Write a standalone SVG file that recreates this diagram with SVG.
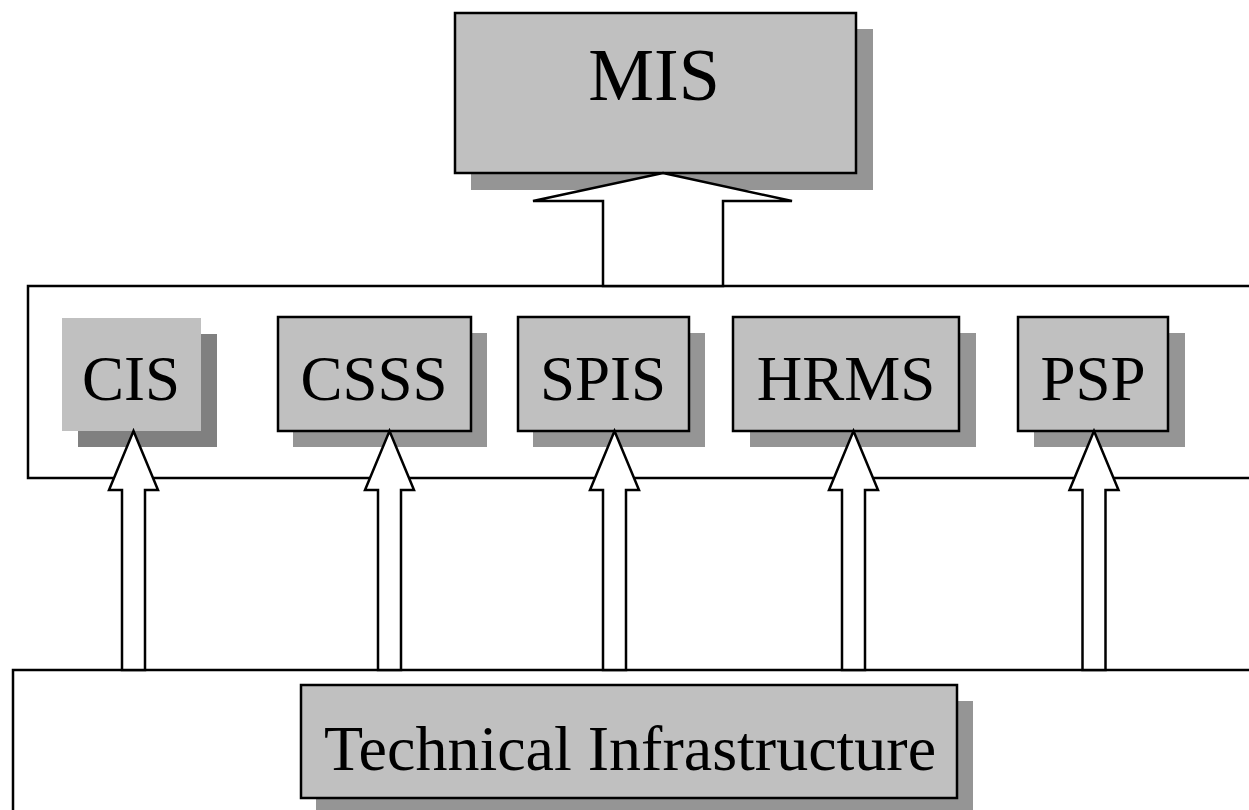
<svg xmlns="http://www.w3.org/2000/svg" width="1249" height="810" viewBox="0 0 1249 810">
  <style>
    .frame { fill: #ffffff; stroke: #000000; stroke-width: 2.5; }
    .box { fill: #c0c0c0; stroke: #000000; stroke-width: 2.5; }
    .shadow { fill: #959595; }
    .label { font-family: "Liberation Serif", "Times New Roman", serif; font-size: 63px; fill: #000000; text-anchor: middle; }
    .arrow { fill: #ffffff; stroke: #000000; stroke-width: 2.5; stroke-linejoin: miter; }
  </style>
  <rect width="1249" height="810" fill="#ffffff"/>

  <!-- layer frames -->
  <g id="applications-layer">
    <rect class="frame" x="28" y="286" width="1240" height="192"/>
  </g>
  <g id="infrastructure-layer">
    <rect class="frame" x="13" y="670" width="1260" height="160"/>
  </g>

  <!-- MIS -->
  <g id="mis">
    <rect class="shadow" x="471" y="29" width="402" height="161"/>
    <rect class="box" x="455" y="13" width="401" height="160"/>
    <text class="label" x="654" y="100" style="font-size:74px">MIS</text>
  </g>

  <!-- application systems -->
  <g id="cis">
    <rect x="78" y="334" width="139" height="113" fill="#808080"/>
    <rect x="62" y="318" width="139" height="113" fill="#c0c0c0"/>
    <text class="label" x="131" y="400">CIS</text>
  </g>
  <g id="csss">
    <rect class="shadow" x="293" y="333" width="194" height="114"/>
    <rect class="box" x="278" y="317" width="193" height="114"/>
    <text class="label" x="374" y="400">CSSS</text>
  </g>
  <g id="spis">
    <rect class="shadow" x="533" y="333" width="172" height="114"/>
    <rect class="box" x="518" y="317" width="171" height="114"/>
    <text class="label" x="603" y="400">SPIS</text>
  </g>
  <g id="hrms">
    <rect class="shadow" x="750" y="333" width="226" height="114"/>
    <rect class="box" x="733" y="317" width="226" height="114"/>
    <text class="label" x="846" y="400">HRMS</text>
  </g>
  <g id="psp">
    <rect class="shadow" x="1034" y="333" width="151" height="114"/>
    <rect class="box" x="1018" y="317" width="150" height="114"/>
    <text class="label" x="1093" y="400">PSP</text>
  </g>

  <!-- technical infrastructure -->
  <g id="technical-infrastructure">
    <rect class="shadow" x="316" y="701" width="657" height="120"/>
    <rect class="box" x="301" y="685" width="656" height="113"/>
    <text class="label" x="630" y="770" style="font-size:64px">Technical Infrastructure</text>
  </g>

  <!-- block arrows -->
  <g id="connectors">
    <polygon class="arrow" points="663,173 792,201 723,201 723,286 603,286 603,201 533,201"/>
    <polygon class="arrow" points="133.5,431 158,490 145,490 145,670 122,670 122,490 109,490"/>
    <polygon class="arrow" points="389.5,431 414,490 401,490 401,670 378,670 378,490 365,490"/>
    <polygon class="arrow" points="614.5,431 639,490 626,490 626,670 603,670 603,490 590,490"/>
    <polygon class="arrow" points="853.5,431 878,490 865,490 865,670 842,670 842,490 829,490"/>
    <polygon class="arrow" points="1094,431 1118.5,490 1105.5,490 1105.5,670 1082.5,670 1082.5,490 1069.5,490"/>
  </g>
</svg>
